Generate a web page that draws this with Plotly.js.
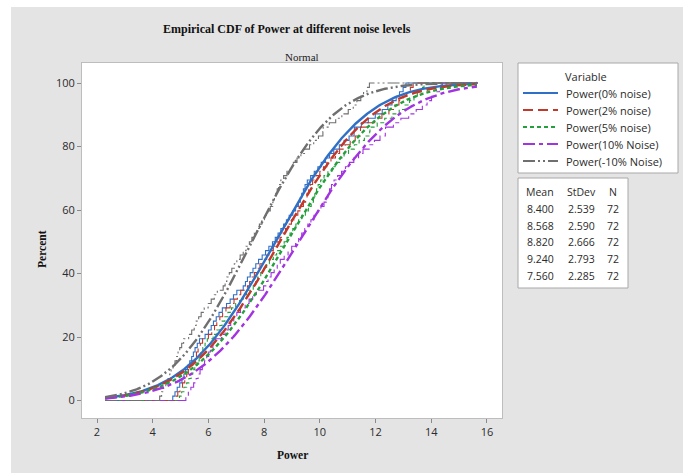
<!DOCTYPE html>
<html><head><meta charset="utf-8">
<script src="https://cdn.plot.ly/plotly-3.0.1.min.js"></script>
<style>
html,body{margin:0;padding:0;background:#fff;width:683px;height:473px;overflow:hidden}
#chart{position:absolute;left:11px;top:7px;width:672px;height:466px}
</style></head><body><div id="chart"></div>
<script>
// ---------- data ----------
const SERIES = ["Power(0% noise)", "Power(2% noise)", "Power(5% noise)", "Power(10% Noise)", "Power(-10% Noise)"];
const MEAN  = [8.400, 8.568, 8.820, 9.240, 7.560];
const STDEV = [2.539, 2.590, 2.666, 2.793, 2.285];
const NOBS  = [72, 72, 72, 72, 72];

const power0 = [4.72,4.80,4.88,4.97,5.05,5.12,5.18,5.25,5.33,5.40,5.46,5.52,5.60,5.68,5.88,6.00,6.10,6.18,6.28,6.38,
  6.50,6.65,6.78,6.90,7.02,7.25,7.33,7.40,7.50,7.60,7.70,7.80,7.93,8.05,8.17,8.30,8.40,8.50,8.60,8.70,
  8.80,8.90,9.03,9.13,9.23,9.30,9.35,9.41,9.47,9.55,9.67,9.80,9.93,10.05,10.20,10.35,10.50,10.70,10.87,11.05,
  11.23,11.24,11.49,11.74,11.99,12.24,12.44,12.59,12.74,12.86,12.99,13.09];
const power2 = [4.81,4.90,4.98,5.07,5.15,5.22,5.28,5.36,5.44,5.51,5.57,5.63,5.71,5.79,6.00,6.12,6.22,6.30,6.41,6.51,
  6.63,6.78,6.92,7.04,7.16,7.40,7.48,7.55,7.65,7.75,7.85,7.96,8.09,8.21,8.33,8.47,8.57,8.67,8.77,8.87,
  8.98,9.08,9.21,9.31,9.41,9.49,9.54,9.60,9.66,9.74,9.86,10.00,10.13,10.25,10.40,10.56,10.71,10.91,11.09,11.27,
  11.45,11.46,11.72,11.97,12.23,12.48,12.69,12.84,12.99,13.12,13.25,13.35];
const power5 = [4.96,5.04,5.12,5.22,5.30,5.38,5.44,5.51,5.60,5.67,5.73,5.80,5.88,5.96,6.17,6.30,6.41,6.49,6.59,6.70,
  6.83,6.98,7.12,7.25,7.37,7.61,7.70,7.77,7.88,7.98,8.09,8.19,8.33,8.45,8.58,8.72,8.82,8.93,9.03,9.14,
  9.24,9.35,9.48,9.59,9.69,9.77,9.82,9.88,9.94,10.03,10.15,10.29,10.43,10.55,10.71,10.87,11.03,11.24,11.41,11.60,
  11.79,11.80,12.06,12.33,12.59,12.85,13.06,13.22,13.38,13.50,13.64,13.74];
const power10 = [5.19,5.28,5.37,5.47,5.56,5.63,5.70,5.78,5.86,5.94,6.01,6.07,6.16,6.25,6.47,6.60,6.71,6.80,6.91,7.02,
  7.15,7.32,7.46,7.59,7.72,7.98,8.06,8.14,8.25,8.36,8.47,8.58,8.72,8.86,8.99,9.13,9.24,9.35,9.46,9.57,
  9.68,9.79,9.93,10.04,10.15,10.23,10.29,10.35,10.42,10.51,10.64,10.78,10.92,11.06,11.22,11.39,11.55,11.77,11.96,12.16,
  12.35,12.36,12.64,12.91,13.19,13.46,13.68,13.85,14.01,14.15,14.29,14.40];
const powerM10 = [4.25,4.32,4.39,4.47,4.55,4.61,4.66,4.73,4.80,4.86,4.91,4.97,5.04,5.11,5.29,5.40,5.49,5.56,5.65,5.74,
  5.85,5.99,6.10,6.21,6.32,6.53,6.60,6.66,6.75,6.84,6.93,7.02,7.14,7.25,7.35,7.47,7.56,7.65,7.74,7.83,
  7.92,8.01,8.13,8.22,8.31,8.37,8.42,8.47,8.52,8.60,8.70,8.82,8.94,9.05,9.18,9.32,9.45,9.63,9.78,9.95,
  10.11,10.12,10.34,10.57,10.79,11.02,11.20,11.33,11.47,11.57,11.69,11.78];
const DATA = [power0, power2, power5, power10, powerM10];

const X_START = 2.29, X_END = 15.68;          // span of the plotted CDFs
const X_TICKS = [2, 4, 6, 8, 10, 12, 14, 16];
const Y_TICKS = [0, 20, 40, 60, 80, 100];

// ---------- styles ----------
const COLORS = ["#2f6fc6", "#c0392b", "#23a03c", "#a233e0", "#6f6f6f"];
const DASHES = ["solid", "10px,5px", "4px,3px", "12px,4px,4px,4px", "12px,3px,2px,3px,2px,3px"];
const SANS = "Open Sans, Noto Sans, sans-serif";
const SERIF = "Liberation Serif, Times New Roman, serif";

// ---------- helpers ----------
function erf(x) {
  const s = x < 0 ? -1 : 1; x = Math.abs(x);
  const t = 1 / (1 + 0.3275911 * x);
  const y = 1 - (((((1.061405429 * t - 1.453152027) * t) + 1.421413741) * t - 0.284496736) * t + 0.254829592) * t * Math.exp(-x * x);
  return s * y;
}
function normCdf(x, m, s) { return 0.5 * (1 + erf((x - m) / (s * Math.SQRT2))); }

// plot area in page pixels: x 82..502, y 63..418 (div offset 11,7)
const PL = 82, PR = 502, PT = 63, PB = 418;
const px = x => (x - PL) / (PR - PL);
const py = y => 1 - (y - PT) / (PB - PT);

// ---------- traces ----------
const traces = [];
DATA.forEach((vals, k) => {
  const sorted = vals.slice().sort((a, b) => a - b);
  const n = sorted.length;
  const xs = [X_START].concat(sorted, [X_END]);
  const ys = [0].concat(sorted.map((v, i) => (i + 1) / n * 100), [100]);
  traces.push({
    x: xs, y: ys, type: "scatter", mode: "lines", name: SERIES[k] + " (empirical)",
    line: { shape: "hv", color: COLORS[k], width: 1.1, dash: DASHES[k] },
    showlegend: false, hoverinfo: "skip"
  });
});
DATA.forEach((vals, k) => {
  const xs = [], ys = [];
  for (let x = X_START; x <= X_END + 1e-9; x += 0.05) {
    xs.push(x); ys.push(100 * normCdf(x, MEAN[k], STDEV[k]));
  }
  traces.push({
    x: xs, y: ys, type: "scatter", mode: "lines", name: SERIES[k],
    line: { color: COLORS[k], width: 2.4, dash: DASHES[k] }, showlegend: false
  });
});

// ---------- annotations & boxes ----------
const TXT = "#2b2b2b";
const ann = [
  { text: "<b>Empirical CDF of Power at different noise levels</b>", x: px(287), y: py(29), font: { family: SERIF, size: 12, color: "#111" } },
  { text: "Normal", x: px(302), y: py(57), font: { family: SERIF, size: 11, color: "#222" } },
  { text: "<b>Power</b>", x: px(292), y: py(455), font: { family: SERIF, size: 11.5, color: "#111" } },
  { text: "<b>Percent</b>", x: px(42), y: py(249), textangle: -90, font: { family: SERIF, size: 11.5, color: "#111" } }
];
const shapes = [];

// legend box (manual, for exact placement)
shapes.push({ type: "rect", xref: "paper", yref: "paper", x0: px(518), x1: px(678), y0: py(173), y1: py(63),
  line: { color: "#a8a8a8", width: 1 }, fillcolor: "#ffffff" });
ann.push({ text: "Variable", x: px(586), y: py(77), font: { family: SANS, size: 11, color: TXT } });
const LEGY = [93, 110, 127, 144, 161];
SERIES.forEach((s, k) => {
  shapes.push({ type: "line", xref: "paper", yref: "paper", x0: px(523), x1: px(558), y0: py(LEGY[k]), y1: py(LEGY[k]),
    line: { color: COLORS[k], width: 2, dash: DASHES[k] } });
  ann.push({ text: s, x: px(564), y: py(LEGY[k]), xanchor: "left", font: { family: SANS, size: 11, color: TXT } });
});

// statistics box
shapes.push({ type: "rect", xref: "paper", yref: "paper", x0: px(518), x1: px(628), y0: py(288), y1: py(178),
  line: { color: "#a8a8a8", width: 1 }, fillcolor: "#ffffff" });
const COLX = [540, 581, 613];
const HEAD = ["Mean", "StDev", "N"];
HEAD.forEach((h, j) => ann.push({ text: h, x: px(COLX[j]), y: py(192), font: { family: SANS, size: 10.5, color: TXT } }));
const ROWY = [209, 226, 242, 259, 276];
MEAN.forEach((m, i) => {
  const cells = [m.toFixed(3), STDEV[i].toFixed(3), String(NOBS[i])];
  cells.forEach((c, j) => ann.push({ text: c, x: px(COLX[j]), y: py(ROWY[i]), font: { family: SANS, size: 10.5, color: TXT } }));
});
ann.forEach(a => { a.xref = "paper"; a.yref = "paper"; a.showarrow = false; if (!a.xanchor) a.xanchor = "center"; a.yanchor = "middle"; });

const axisCommon = {
  ticks: "outside", ticklen: 4, tickcolor: "#8a8a8a", tickwidth: 1,
  showline: true, mirror: true, linecolor: "#bdbdbd", linewidth: 1,
  showgrid: false, zeroline: false,
  tickfont: { family: SANS, size: 11, color: TXT }
};

const layout = {
  width: 672, height: 466,
  margin: { l: 71, r: 181, t: 56, b: 55 },
  paper_bgcolor: "#e4e4e4", plot_bgcolor: "#ffffff",
  xaxis: Object.assign({}, axisCommon, { range: [1.4615, 16.54], tickvals: X_TICKS, ticktext: X_TICKS.map(String) }),
  yaxis: Object.assign({}, axisCommon, { range: [-5.5, 106.3], tickvals: Y_TICKS, ticktext: Y_TICKS.map(String) }),
  showlegend: false,
  shapes: shapes,
  annotations: ann
};

Plotly.newPlot("chart", traces, layout, { staticPlot: true, displayModeBar: false });
</script></body></html>
